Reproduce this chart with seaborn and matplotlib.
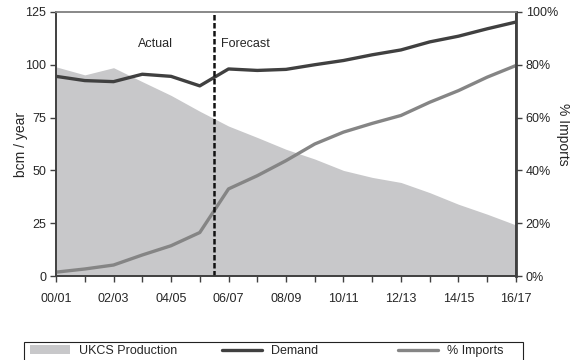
"""
plot.py

UK gas: UKCS production, demand and share of imports, actual and forecast
"""

import numpy as np
import seaborn as sns
from matplotlib import pyplot as plt
from matplotlib.patches import Patch, Rectangle
from matplotlib.lines import Line2D

sns.set_style('white')
plt.rcParams['font.family'] = ['Liberation Sans', 'DejaVu Sans']

#------------------------------------------------------------------------------
# Data
#------------------------------------------------------------------------------
years = ['00/01', '01/02', '02/03', '03/04', '04/05', '05/06', '06/07', '07/08', '08/09',
         '09/10', '10/11', '11/12', '12/13', '13/14', '14/15', '15/16', '16/17']
production = [99, 95.2, 98.6, 92, 85.5, 78, 71, 65.6, 60, 55.4, 50, 46.7, 44.3, 39.5, 34, 29.3, 24.2]
demand = [94.5, 92.5, 92, 95.5, 94.5, 90, 98, 97.3, 97.8, 100, 102, 104.7, 107, 110.8, 113.5, 117, 120.2]
imports_pct = [1.5, 2.7, 4.2, 8, 11.5, 16.5, 33, 38, 43.7, 50, 54.5, 57.8, 60.8, 65.8, 70.2, 75.3, 79.7]
split_at = 5.5  # boundary between actual and forecast

x = np.arange(len(years))
prod_color = '#c8c8ca'
dem_color = '#404040'
imp_color = '#858585'

#------------------------------------------------------------------------------
# Plot figure
#------------------------------------------------------------------------------
fig = plt.figure(figsize=(5.72, 3.6), dpi=100)
ax = fig.add_axes([0.098, 0.233, 0.804, 0.734])
ax2 = ax.twinx()

ax.fill_between(x, production, 0, color=prod_color, lw=0)
sns.lineplot(x=x, y=demand, color=dem_color, lw=2.4, ax=ax)
sns.lineplot(x=x, y=imports_pct, color=imp_color, lw=2.4, ax=ax2)
ax2.axvline(split_at, color='#111111', ls=(0, (2.2, 1)), lw=1.8)

ax.set_xlim(0, len(years) - 1)
ax.set_ylim(0, 125)
ax2.set_ylim(0, 100)
ax.set_yticks([0, 25, 50, 75, 100, 125])
ax2.set_yticks([0, 20, 40, 60, 80, 100])
ax2.set_yticklabels([f'{v}%' for v in [0, 20, 40, 60, 80, 100]])
ax.set_xticks(x)
ax.set_xticklabels([y if i % 2 == 0 else '' for i, y in enumerate(years)])

ax.text(3.45, 110, 'Actual', ha='center', va='center', fontsize=9)
ax.text(5.75, 110, 'Forecast', ha='left', va='center', fontsize=9)

ax.set_ylabel('bcm / year', fontsize=10, labelpad=-2)
fig.text(563/572, 1 - 134/360, '% Imports', fontsize=10, rotation=-90,
         ha='center', va='center')

for a in (ax, ax2):
    a.tick_params(axis='both', labelsize=9, length=4, width=1, color='#404040', pad=3)
    a.tick_params(axis='x', pad=8)
    for side in ('left', 'bottom', 'right'):
        a.spines[side].set_color('#404040')
        a.spines[side].set_linewidth(1.2)
    a.spines['top'].set_color('#888888')
    a.spines['top'].set_linewidth(1.2)
ax2.spines['right'].set_linewidth(2)
ax.tick_params(axis='x', bottom=True)
ax.tick_params(axis='y', left=True)
ax2.tick_params(axis='y', right=True)

#------------------------------------------------------------------------------
# Legend: one framed box, three entries placed along it
#------------------------------------------------------------------------------
fig.add_artist(Rectangle((24/572, -0.02), 499/572, 0.02 + 1 - 342/360,
                         transform=fig.transFigure, facecolor='none',
                         edgecolor='#222222', lw=0.8))
handles = [Patch(facecolor=prod_color, edgecolor='none'),
           Line2D([], [], color=dem_color, lw=2.4),
           Line2D([], [], color=imp_color, lw=2.4)]
labels = ['UKCS Production', 'Demand', '% Imports']
starts = [30, 222, 398]
for h, lab, sx in zip(handles, labels, starts):
    fig.legend([h], [lab], loc='center left', bbox_to_anchor=(sx/572, 1 - 351/360),
               fontsize=9, frameon=False, handlelength=3.2, handletextpad=0.75,
               borderpad=0, borderaxespad=0)

#------------------------------------------------------------------------------
# Save figure
#------------------------------------------------------------------------------
plt.savefig('out.png', dpi=100)
